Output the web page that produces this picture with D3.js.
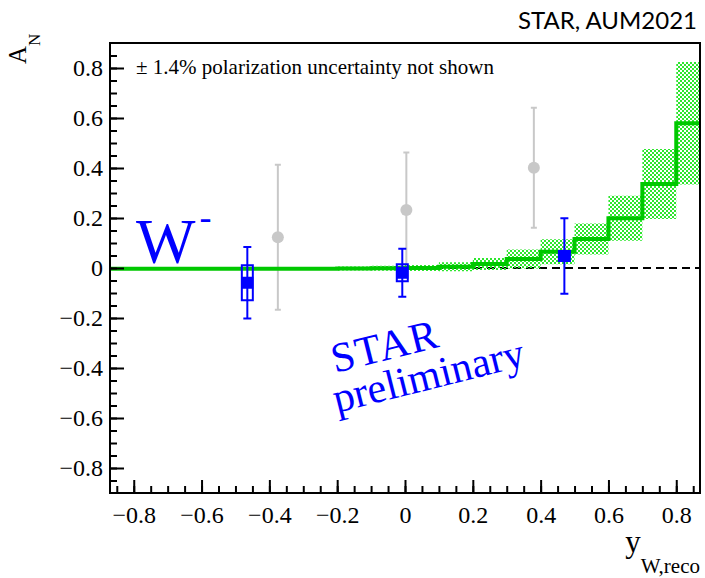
<!DOCTYPE html>
<html>
<head>
<meta charset="utf-8">
<script src="https://cdn.jsdelivr.net/npm/d3@7"></script>
<style>
  body { margin: 0; background: #fff; }
  svg { display: block; }
</style>
</head>
<body>
<div id="chart"></div>
<script>
// theory bins (lower edges, width 0.1), value and band half-width
var thLo  = [-0.9, -0.8, -0.7, -0.6, -0.5, -0.4, -0.3, -0.2, -0.1, 0.0, 0.1, 0.2, 0.3, 0.4, 0.5, 0.6, 0.7, 0.8];
var thVal = [-0.003, -0.003, -0.003, -0.003, -0.003, -0.003, -0.003, -0.002, -0.001, 0.0, 0.005, 0.016, 0.036, 0.065, 0.116, 0.199, 0.336, 0.579];
var thErr = [0.002, 0.002, 0.002, 0.002, 0.003, 0.003, 0.004, 0.008, 0.01, 0.012, 0.018, 0.024, 0.038, 0.05, 0.062, 0.09, 0.14, 0.245];

// STAR preliminary points (blue)
var ptY    = [-0.465, -0.008, 0.47];
var ptAN   = [-0.059, -0.019, 0.048];
var ptStat = [0.143, 0.096, 0.151];
var ptSys  = [0.07, 0.034, 0.02];

// earlier result (grey)
var oldY   = [-0.375, 0.004, 0.38];
var oldAN  = [0.123, 0.232, 0.401];
var oldErr = [0.29, 0.23, 0.24];

var xTicks = [-0.8, -0.6, -0.4, -0.2, 0, 0.2, 0.4, 0.6, 0.8];
var yTicks = [-0.8, -0.6, -0.4, -0.2, 0, 0.2, 0.4, 0.6, 0.8];

var chart_width = 705, chart_height = 578;
var pLeft = 110, pRight = 700, pTop = 43, pBottom = 493;
var serif = "'Liberation Serif', 'Times New Roman', serif";

var svg = d3.select("#chart").append("svg")
.attr("width", chart_width)
.attr("height", chart_height);

var x = d3.scaleLinear().domain([-0.87, 0.87]).range([pLeft, pRight]);
var y = d3.scaleLinear().domain([-0.9, 0.9]).range([pBottom, pTop]);

var fmt = function(d) {
	return Math.abs(d) < 1e-9 ? "0" : d3.format(".1f")(d);
};

// checker pattern for the theory band
var defs = svg.append("defs");
var pat = defs.append("pattern")
.attr("id", "hatch")
.attr("patternUnits", "userSpaceOnUse")
.attr("width", 4)
.attr("height", 4);
pat.append("rect").attr("x", 0).attr("y", 0).attr("width", 2).attr("height", 2).attr("fill", "#2ee62e");
pat.append("rect").attr("x", 2).attr("y", 2).attr("width", 2).attr("height", 2).attr("fill", "#2ee62e");

defs.append("clipPath").attr("id", "plotclip")
.append("rect")
.attr("x", pLeft).attr("y", pTop)
.attr("width", pRight - pLeft).attr("height", pBottom - pTop);

var plot = svg.append("g").attr("clip-path", "url(#plotclip)");

// zero line
plot.append("line")
.attr("x1", pLeft).attr("x2", pRight)
.attr("y1", y(0)).attr("y2", y(0))
.attr("stroke", "black")
.attr("stroke-width", 2)
.attr("stroke-dasharray", "8,5");

// grey points
var oldIdx = d3.range(oldY.length);
plot.selectAll(".olderr")
.data(oldIdx)
.enter()
.append("line")
.attr("x1", function(i) { return x(oldY[i]); })
.attr("x2", function(i) { return x(oldY[i]); })
.attr("y1", function(i) { return y(oldAN[i] + oldErr[i]); })
.attr("y2", function(i) { return y(oldAN[i] - oldErr[i]); })
.attr("stroke", "#c8c8c8")
.attr("stroke-width", 2);

[1, -1].forEach(function(s) {
	plot.selectAll(".oldcap" + s)
	.data(oldIdx)
	.enter()
	.append("line")
	.attr("x1", function(i) { return x(oldY[i]) - 3; })
	.attr("x2", function(i) { return x(oldY[i]) + 3; })
	.attr("y1", function(i) { return y(oldAN[i] + s * oldErr[i]); })
	.attr("y2", function(i) { return y(oldAN[i] + s * oldErr[i]); })
	.attr("stroke", "#c8c8c8")
	.attr("stroke-width", 2);
});

plot.selectAll(".oldpt")
.data(oldIdx)
.enter()
.append("circle")
.attr("cx", function(i) { return x(oldY[i]); })
.attr("cy", function(i) { return y(oldAN[i]); })
.attr("r", 6)
.attr("fill", "#c8c8c8");

// theory band + step line
var thIdx = d3.range(thLo.length);
plot.selectAll(".band")
.data(thIdx)
.enter()
.append("rect")
.attr("x", function(i) { return x(thLo[i]); })
.attr("width", function(i) { return x(thLo[i] + 0.1) - x(thLo[i]); })
.attr("y", function(i) { return y(thVal[i] + thErr[i]); })
.attr("height", function(i) { return y(thVal[i] - thErr[i]) - y(thVal[i] + thErr[i]); })
.attr("fill", "url(#hatch)");

var stepPts = thIdx.map(function(i) { return [thLo[i], thVal[i]]; });
stepPts.push([thLo[thLo.length - 1] + 0.1, thVal[thVal.length - 1]]);

plot.append("path")
.datum(stepPts)
.attr("d", d3.line()
	.x(function(d) { return x(d[0]); })
	.y(function(d) { return y(d[1]); })
	.curve(d3.curveStepAfter))
.attr("fill", "none")
.attr("stroke", "#00c800")
.attr("stroke-width", 4);

// blue points: sys boxes, stat bars, markers
var ptIdx = d3.range(ptY.length);
plot.selectAll(".sys")
.data(ptIdx)
.enter()
.append("rect")
.attr("x", function(i) { return x(ptY[i]) - 5.5; })
.attr("width", 11)
.attr("y", function(i) { return y(ptAN[i] + ptSys[i]); })
.attr("height", function(i) { return y(ptAN[i] - ptSys[i]) - y(ptAN[i] + ptSys[i]); })
.attr("fill", "none")
.attr("stroke", "#0000ff")
.attr("stroke-width", 2);

plot.selectAll(".stat")
.data(ptIdx)
.enter()
.append("line")
.attr("x1", function(i) { return x(ptY[i]); })
.attr("x2", function(i) { return x(ptY[i]); })
.attr("y1", function(i) { return y(ptAN[i] + ptStat[i]); })
.attr("y2", function(i) { return y(ptAN[i] - ptStat[i]); })
.attr("stroke", "#0000ff")
.attr("stroke-width", 2);

[1, -1].forEach(function(s) {
	plot.selectAll(".cap" + s)
	.data(ptIdx)
	.enter()
	.append("line")
	.attr("x1", function(i) { return x(ptY[i]) - 4; })
	.attr("x2", function(i) { return x(ptY[i]) + 4; })
	.attr("y1", function(i) { return y(ptAN[i] + s * ptStat[i]); })
	.attr("y2", function(i) { return y(ptAN[i] + s * ptStat[i]); })
	.attr("stroke", "#0000ff")
	.attr("stroke-width", 2);
});

plot.selectAll(".pt")
.data(ptIdx)
.enter()
.append("rect")
.attr("x", function(i) { return x(ptY[i]) - 6; })
.attr("y", function(i) { return y(ptAN[i]) - 6; })
.attr("width", 12)
.attr("height", 12)
.attr("fill", "#0000ff");

// axes (ticks inside the frame)
var minor = d3.range(-17, 18).map(function(k) { return k * 0.05; });

svg.append("g")
.attr("transform", "translate(0," + pBottom + ")")
.call(d3.axisBottom(x).tickValues(minor).tickSize(-7).tickFormat(""))
.call(function(g) { g.select(".domain").remove(); });

svg.append("g")
.attr("transform", "translate(" + pLeft + ",0)")
.call(d3.axisLeft(y).tickValues(minor).tickSize(-7).tickFormat(""))
.call(function(g) { g.select(".domain").remove(); });

svg.append("g")
.attr("transform", "translate(0," + pBottom + ")")
.call(d3.axisBottom(x).tickValues(xTicks).tickSize(-13).tickPadding(13).tickFormat(fmt))
.call(function(g) { g.select(".domain").remove(); });

svg.append("g")
.attr("transform", "translate(" + pLeft + ",0)")
.call(d3.axisLeft(y).tickValues(yTicks).tickSize(-14).tickPadding(7).tickFormat(fmt))
.call(function(g) { g.select(".domain").remove(); });

svg.selectAll(".tick line").attr("stroke-width", 2);
svg.selectAll(".tick text")
.attr("font-family", serif)
.attr("font-size", 24)
.attr("fill", "black");

// frame
svg.append("rect")
.attr("x", pLeft).attr("y", pTop)
.attr("width", pRight - pLeft).attr("height", pBottom - pTop)
.attr("fill", "none")
.attr("stroke", "black")
.attr("stroke-width", 2);

// texts
svg.append("text")
.attr("x", 697).attr("y", 29)
.attr("text-anchor", "end")
.attr("font-family", "Lato, 'Open Sans', sans-serif")
.attr("font-size", 24)
.text("STAR, AUM2021");

svg.append("text")
.attr("x", 136).attr("y", 74)
.attr("font-family", serif)
.attr("font-size", 21)
.text("\u00b1 1.4% polarization uncertainty not shown");

var aN = svg.append("text")
.attr("transform", "translate(26,64) rotate(-90)")
.attr("font-family", serif)
.attr("font-size", 25);
aN.append("tspan").text("A");
aN.append("tspan").attr("font-size", 17).attr("dy", 14).text("N");

var yLab = svg.append("text")
.attr("x", 700).attr("y", 552)
.attr("text-anchor", "end")
.attr("font-family", serif)
.attr("font-size", 31);
yLab.append("tspan").text("y");
yLab.append("tspan").attr("font-size", 21).attr("dy", 21).text("W,reco");

var wm = svg.append("text")
.attr("x", 136).attr("y", 263)
.attr("font-family", serif)
.attr("font-size", 63)
.attr("fill", "#0000ff");
wm.append("tspan").text("W");
wm.append("tspan").attr("font-size", 36).attr("dy", -34).attr("dx", 4).text("-");

var prelim = svg.append("g")
.attr("transform", "translate(335,373) rotate(-14)")
.attr("font-family", serif)
.attr("font-size", 42)
.attr("fill", "#0000ff");
prelim.append("text").attr("x", 0).attr("y", 0).attr("letter-spacing", 1.5).text("STAR");
prelim.append("text").attr("x", -8).attr("y", 39).text("preliminary");
</script>
</body>
</html>
